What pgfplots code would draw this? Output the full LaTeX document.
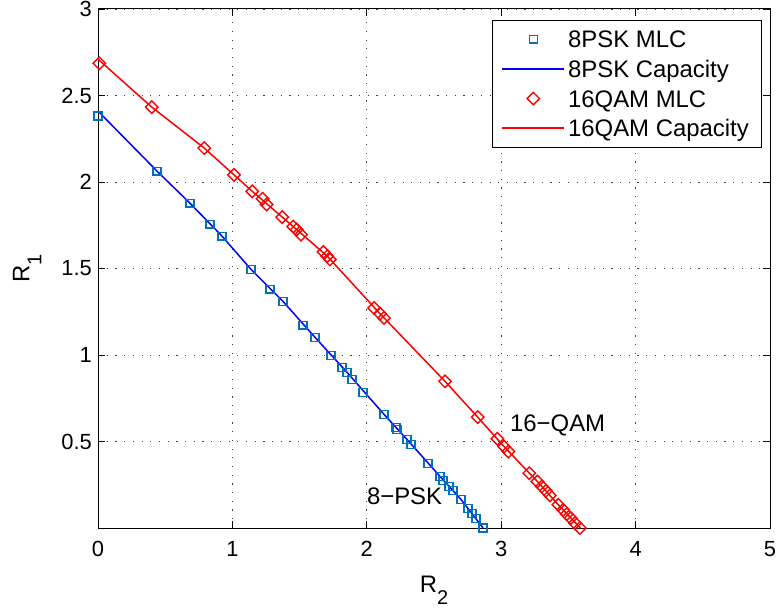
\documentclass[border=0pt]{standalone}
\usepackage{pgfplots}
\pgfplotsset{compat=1.18}
\usepackage{fontspec}
\setmainfont{Liberation Sans}
\definecolor{mblue}{rgb}{0,0.447,0.741}
\begin{document}
\begin{tikzpicture}
\begin{axis}[
 scale only axis, width=672bp, height=519bp,
 xmin=0, xmax=5, ymin=0, ymax=3,
 xtick={0,1,2,3,4,5}, ytick={0.5,1,1.5,2,2.5,3},
 tick align=inside, major tick length=7bp,
 ticklabel style={font=\fontsize{22}{26}\selectfont},
 /pgf/number format/assume math mode=true,
 xticklabel style={inner sep=0pt, yshift=-13bp},
 yticklabel style={inner sep=0pt, xshift=-6bp},
 grid=major,
 major grid style={black!75, dash pattern=on 1.2bp off 7.5bp, line width=0.8bp},
 axis line style={line width=1bp},
 every tick/.style={black, line width=0.8bp},
 clip=false,
 xlabel={R\raisebox{-12bp}{\fontsize{20}{20}\selectfont 2}},
 ylabel={R\raisebox{-12bp}{\fontsize{20}{20}\selectfont 1}},
 xlabel style={at={(axis description cs:0.5,-0.1233)}, anchor=base, font=\fontsize{24}{28}\selectfont, inner sep=0pt},
 ylabel style={at={(axis description cs:-0.1022,0.5)}, anchor=base, font=\fontsize{24}{28}\selectfont, inner sep=0pt},
 legend style={at={(axis description cs:0.9866,0.9788)}, anchor=north east, draw=black, fill=white,
   inner xsep=9bp, inner ysep=4.1bp, font=\fontsize{24}{28}\selectfont,
   nodes={inner xsep=3bp, inner ysep=4.45bp, text height=19bp, text depth=1.8bp},
   row sep=0pt, column sep=0pt},
 legend cell align=left,
 legend image code/.code={\draw[mark repeat=2,mark phase=2,#1] plot coordinates {(0bp,0bp) (31bp,0bp) (62bp,0bp)};},
]
\addplot[only marks, mark=square, mark size=3.9bp, color=mblue, mark options={line width=1.4bp}] coordinates {
(0,2.381) (0.439,2.063) (0.685,1.877) (0.833,1.756) (0.923,1.687) (1.138,1.495) (1.280,1.380) (1.376,1.310)
(1.525,1.172) (1.615,1.102) (1.734,0.998) (1.815,0.928) (1.853,0.900) (1.890,0.859) (1.972,0.784)
(2.128,0.657) (2.217,0.582) (2.225,0.570) (2.299,0.512) (2.329,0.483) (2.455,0.373) (2.545,0.298)
(2.567,0.275) (2.612,0.240) (2.641,0.217) (2.701,0.165) (2.753,0.113) (2.783,0.084) (2.813,0.055) (2.865,0.0)
};
\addlegendentry{8PSK MLC}
\addplot[blue, line width=1.5bp, no markers] coordinates {
(0,2.41) (0.439,2.063) (0.685,1.877) (0.923,1.687) (1.138,1.495) (1.376,1.31) (1.615,1.102) (1.853,0.9)
(2.128,0.657) (2.299,0.512) (2.545,0.298) (2.701,0.165) (2.865,0.0)
};
\addlegendentry{8PSK Capacity}
\addplot[only marks, mark=square, mark size=4.4bp, color=red, mark options={rotate=45, line width=1.4bp}] coordinates {
(0.01,2.686) (0.40,2.433) (0.791,2.196) (1.012,2.041) (1.148,1.946) (1.225,1.903) (1.255,1.870)
(1.371,1.797) (1.453,1.742) (1.478,1.725) (1.510,1.696) (1.677,1.596) (1.706,1.571) (1.726,1.552)
(2.054,1.272) (2.098,1.239) (2.128,1.214) (2.582,0.848) (2.825,0.641) (2.971,0.516) (3.021,0.471)
(3.053,0.442) (3.209,0.317) (3.269,0.269) (3.302,0.240) (3.333,0.215) (3.363,0.188) (3.425,0.134)
(3.462,0.105) (3.487,0.080) (3.517,0.057) (3.549,0.028) (3.586,0.0)
};
\addlegendentry{16QAM MLC}
\addplot[red, line width=1.5bp, no markers] coordinates {
(0,2.71) (0.40,2.433) (0.791,2.196) (1.148,1.946) (1.453,1.742) (1.706,1.571) (2.098,1.239)
(2.582,0.848) (2.825,0.641) (3.021,0.471) (3.269,0.269) (3.425,0.134) (3.59,0.0)
};
\addlegendentry{16QAM Capacity}
\node[anchor=west, inner sep=0pt, font=\fontsize{24}{28}\selectfont] at (axis cs:3.065,0.593) {16−QAM};
\node[anchor=west, inner sep=0pt, font=\fontsize{24}{28}\selectfont] at (axis cs:2.0,0.186) {8−PSK};
\end{axis}
\pgfresetboundingbox
\path ([shift={(-98bp,-84bp)}]current axis.south west) rectangle ([shift={(10bp,9bp)}]current axis.north east);
\end{tikzpicture}
\end{document}
